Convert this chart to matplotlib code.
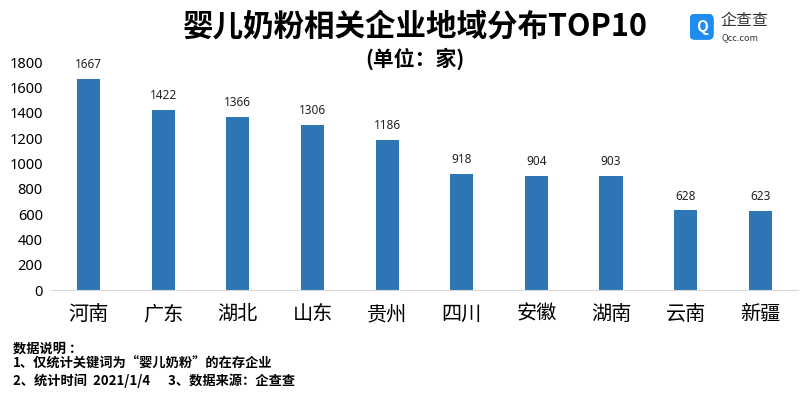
import matplotlib
matplotlib.use("Agg")
import matplotlib.pyplot as plt
from matplotlib.patches import FancyBboxPatch

plt.rcParams['font.family'] = ['Noto Sans CJK SC', 'DejaVu Sans']

regions = ["河南", "广东", "湖北", "山东", "贵州", "四川", "安徽", "湖南", "云南", "新疆"]
counts = [1667, 1422, 1366, 1306, 1186, 918, 904, 903, 628, 623]
yticks = [0, 200, 400, 600, 800, 1000, 1200, 1400, 1600, 1800]

title = "婴儿奶粉相关企业地域分布TOP10"
subtitle = "(单位：家)"
notes = ["数据说明 ：", "1、仅统计关键词为“婴儿奶粉”的在存企业", "2、统计时间  2021/1/4      3、数据来源：企查查"]

fig = plt.figure(figsize=(8, 3.97), dpi=100)
ax = fig.add_axes([0.064, 0.2695, 0.933, 0.5743])
x = range(len(regions))
bars = ax.bar(x, counts, width=0.31, color="#2E75B6")
for xi, v in zip(x, counts):
    ax.text(xi, v + 60, str(v), ha="center", va="bottom", fontsize=8.5, color="#222222",
            family=["Noto Sans", "DejaVu Sans"])
ax.set_xlim(-0.5, len(regions) - 0.5)
ax.set_ylim(0, 1800)
ax.set_yticks(yticks)
ax.set_yticklabels([str(t) for t in yticks], fontsize=10.5, family=["Noto Sans", "DejaVu Sans"])
ax.set_xticks(list(x))
ax.set_xticklabels(regions, fontsize=14.5)
for s in ["top", "right", "left"]:
    ax.spines[s].set_visible(False)
ax.spines["bottom"].set_color("#d9d9d9")
ax.tick_params(axis="both", length=0)
ax.tick_params(axis="x", pad=10)
ax.tick_params(axis="y", pad=6)

fig.text(0.519, 0.932, title, ha="center", va="center", fontsize=22, fontweight="bold")
fig.text(0.519, 0.853, subtitle, ha="center", va="center", fontsize=15, fontweight="bold")

ys = [0.123, 0.083, 0.041]
for yy, t in zip(ys, notes):
    fig.text(0.016, yy, t, ha="left", va="center", fontsize=9.5, fontweight="bold")

# logo
lax = fig.add_axes([0.862, 0.9, 0.03, 0.065])
lax.set_xlim(0, 1); lax.set_ylim(0, 1); lax.axis("off")
lax.add_patch(FancyBboxPatch((0.02, 0.02), 0.96, 0.96, boxstyle="round,pad=0,rounding_size=0.2",
                             color="#1E8CF0", transform=lax.transAxes))
lax.text(0.5, 0.48, "Q", ha="center", va="center", color="white", fontsize=11, fontweight="bold")
fig.text(0.901, 0.948, "企查查", ha="left", va="center", fontsize=11.5, color="#333333")
fig.text(0.902, 0.905, "Qcc.com", ha="left", va="center", fontsize=6.5, color="#333333")

fig.savefig("out.png", dpi=100)
